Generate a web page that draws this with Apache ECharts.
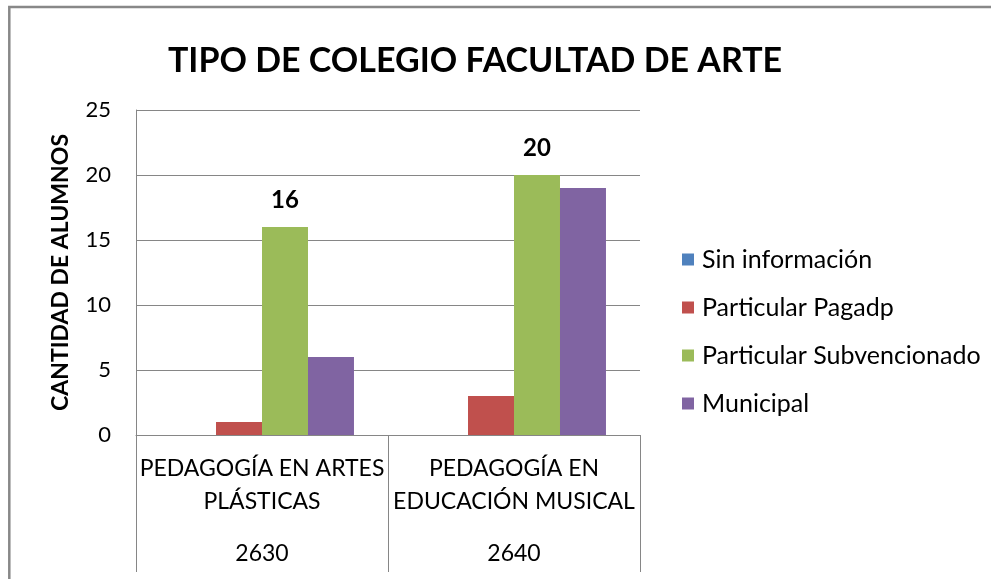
<!DOCTYPE html>
<html lang="es">
  <head>
    <meta charset="UTF-8" />
    <script src="https://cdn.jsdelivr.net/npm/echarts@6/dist/echarts.min.js"></script>
    <style>
      html, body { margin: 0; padding: 0; background: #fff; }
      #main { width: 991px; height: 579px; }
    </style>
    <title>Tipo de colegio</title>
  </head>
  <body>
    <div id="main"></div>
    <script>
      const carreras = ["PEDAGOGÍA EN ARTES\nPLÁSTICAS", "PEDAGOGÍA EN\nEDUCACIÓN MUSICAL"];
      const codigos = ["2630", "2640"];
      const sinInformacion = [0, 0];
      const particularPagado = [1, 3];
      const particularSubvencionado = [16, 20];
      const municipal = [6, 19];

      const font = "Lato, 'Open Sans', sans-serif";
      const chart = echarts.init(document.getElementById("main"));

      const labels = carreras.map((c, i) => {
        const lines = c.split("\n").map(l => "{a|" + l + "}").join("\n");
        return lines + "\n{b|" + codigos[i] + "}";
      });

      chart.setOption({
        animation: false,
        textStyle: { fontFamily: font },
        title: {
          text: "TIPO DE COLEGIO FACULTAD DE ARTE",
          left: 470,
          textAlign: "center",
          top: 39,
          textStyle: { fontSize: 34, fontWeight: "bold", color: "#000", fontFamily: font }
        },
        graphic: [{
          type: "rect",
          shape: { x: 9.3, y: 7, width: 1000, height: 600 },
          style: { fill: "none", stroke: "#888", lineWidth: 2.5 }
        }],
        legend: {
          orient: "vertical",
          left: 677,
          top: 242,
          itemWidth: 12,
          itemHeight: 12,
          itemGap: 23,
          icon: "rect",
          textStyle: { fontSize: 25, color: "#000", fontFamily: font, padding: [0, 0, 0, 3] }
        },
        grid: { left: 136, right: 351, top: 110, bottom: 144 },
        xAxis: {
          type: "category",
          data: labels,
          axisLine: { lineStyle: { color: "#868686", width: 1 } },
          axisTick: { show: true, length: 137, lineStyle: { color: "#868686" } },
          axisLabel: {
            interval: 0,
            margin: 17,
            color: "#000",
            rich: {
              a: { fontSize: 23, lineHeight: 33, color: "#000", fontFamily: font },
              b: { fontSize: 23, lineHeight: 71, color: "#000", fontFamily: font }
            }
          }
        },
        yAxis: {
          type: "value",
          min: 0,
          max: 25,
          interval: 5,
          name: "CANTIDAD DE ALUMNOS",
          nameLocation: "middle",
          nameGap: 64,
          nameTextStyle: { fontSize: 23, fontWeight: "bold", color: "#000", fontFamily: font },
          axisLine: { show: true, lineStyle: { color: "#868686" } },
          axisTick: { show: false },
          axisLabel: { fontSize: 22, color: "#000", margin: 25 },
          splitLine: { lineStyle: { color: "#868686" } }
        },
        series: [
          { name: "Sin información", type: "bar", data: sinInformacion, itemStyle: { color: "#4F81BD" }, barGap: "0%", barCategoryGap: "27%" },
          { name: "Particular Pagadp", type: "bar", data: particularPagado, itemStyle: { color: "#C0504D" } },
          {
            name: "Particular Subvencionado", type: "bar", data: particularSubvencionado, itemStyle: { color: "#9BBB59" },
            label: { show: true, position: "top", distance: 15, fontSize: 24, fontWeight: "bold", color: "#000", fontFamily: font }
          },
          { name: "Municipal", type: "bar", data: municipal, itemStyle: { color: "#8064A2" } }
        ]
      });
    </script>
  </body>
</html>
